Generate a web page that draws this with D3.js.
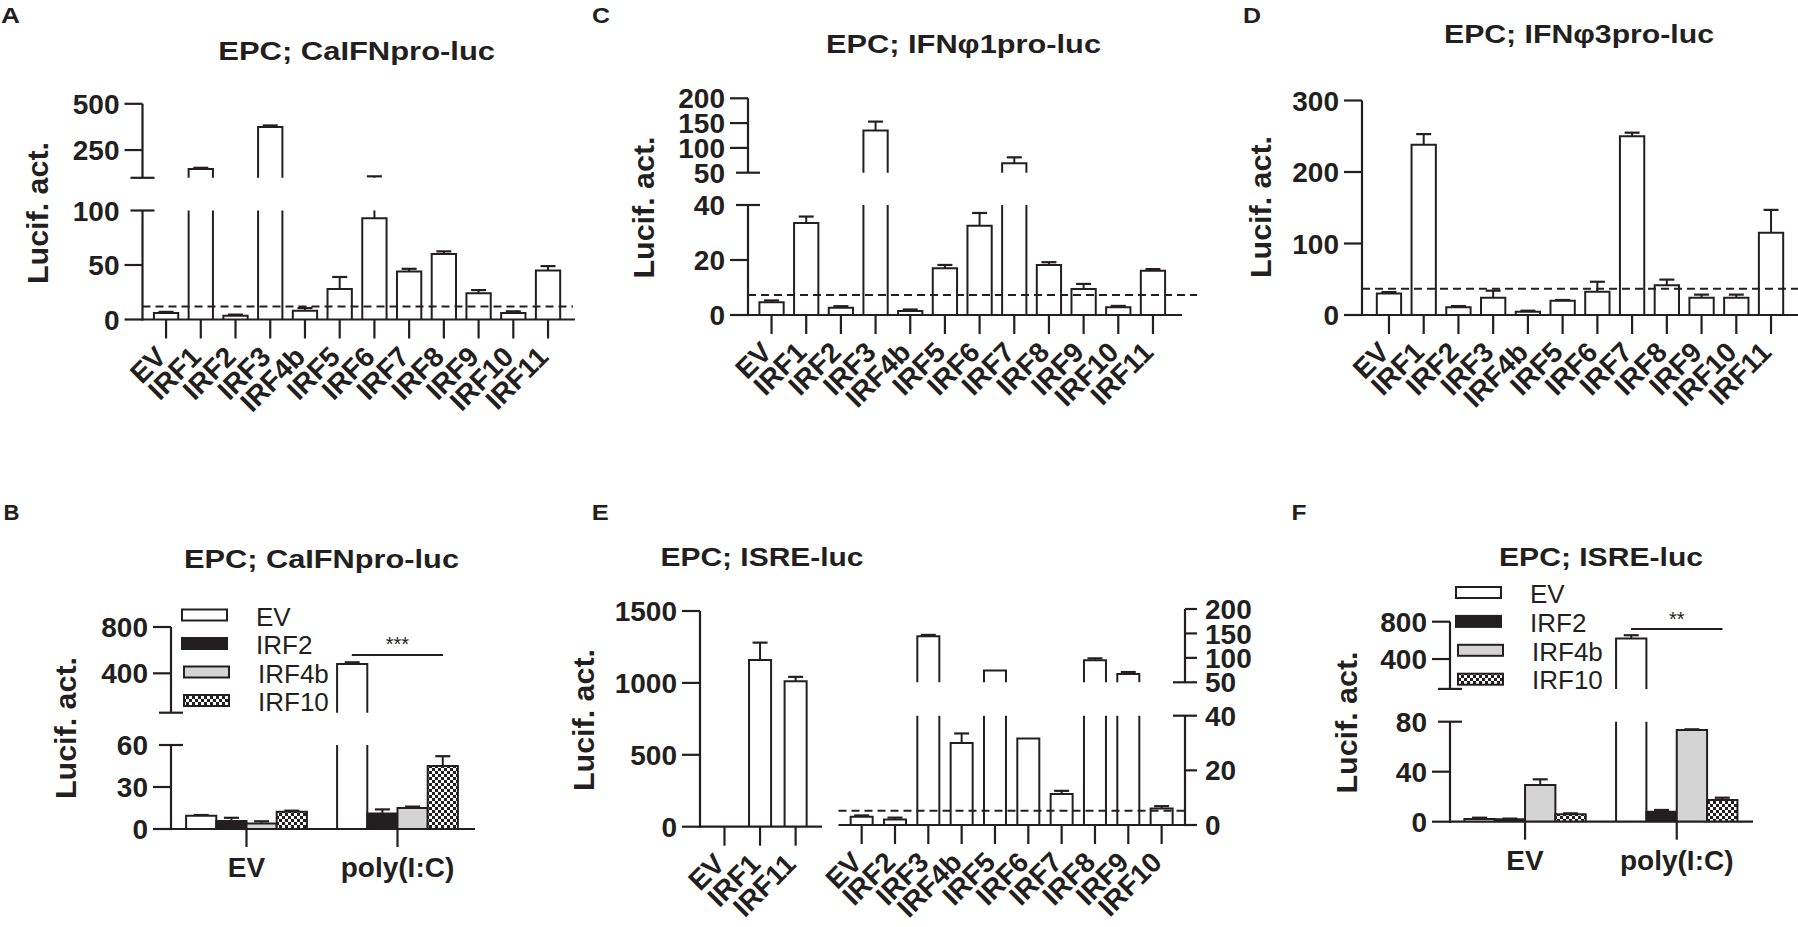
<!DOCTYPE html>
<html><head><meta charset="utf-8">
<script src="https://cdn.jsdelivr.net/npm/d3@7"></script>
<style>
html,body{margin:0;padding:0;background:#fff;}
svg{display:block;}
text{font-family:"Liberation Sans",Arial,Helvetica,sans-serif;fill:#231f20;}
</style></head><body>
<svg id="chart" width="1798" height="927"></svg>
<script>
// ---------------- DATA ----------------
const irfCats = ["EV","IRF1","IRF2","IRF3","IRF4b","IRF5","IRF6","IRF7","IRF8","IRF9","IRF10","IRF11"];

// Panel A: CaIFNpro-luc
const aValues = [6, 148, 3.5, 375, 8, 28, 93, 44, 60, 24, 6, 45];
const aErrors = [1, 6, 1, 8, 2.5, 11, 15, 2.5, 2.5, 3, 1.5, 4];
const aTicksLower = [0, 50, 100];
const aTicksUpper = [250, 500];
const aCutoff = 12;

// Panel C: IFNφ1pro-luc
const cValues = [4.6, 33.5, 2.6, 135, 1.5, 17, 32.5, 69, 18.2, 9.5, 2.8, 16.1];
const cErrors = [0.7, 2.3, 0.6, 18, 0.5, 1.2, 4.6, 12, 1, 1.8, 0.5, 0.6];
const cTicksLower = [0, 20, 40];
const cTicksUpper = [50, 100, 150, 200];
const cCutoff = 7.3;

// Panel D: IFNφ3pro-luc
const dValues = [30, 238, 11, 24, 4.5, 20, 32.5, 250, 41.5, 24, 24, 115];
const dErrors = [2, 15, 1.5, 10, 1.5, 1, 14, 5, 8, 4.5, 4.5, 32];
const dTicks = [0, 100, 200, 300];
const dCutoff = 36.7;

// Panels B and F: grouped
const groupCats = ["EV", "poly(I:C)"];
const seriesNames = ["EV", "IRF2", "IRF4b", "IRF10"];
const bValuesEV = [9.5, 5.7, 4, 12.4];
const bErrorsEV = [0.5, 2.3, 1.5, 0.7];
const bValuesPoly = [480, 11, 15, 45];
const bErrorsPoly = [15, 3, 1, 7];
const bTicksLower = [0, 30, 60];
const bTicksUpper = [400, 800];
const bSignif = "***";

const fValuesEV = [2.2, 1.9, 29.4, 5.9];
const fErrorsEV = [1, 0.6, 4.5, 0.8];
const fValuesPoly = [620, 8, 73.4, 17.4];
const fErrorsPoly = [35, 1.4, 0.5, 1.8];
const fTicksLower = [0, 40, 80];
const fTicksUpper = [400, 800];
const fSignif = "**";

// Panel E: ISRE-luc
const eLeftCats = ["EV", "IRF1", "IRF11"];
const eLeftValues = [0, 1160, 1012];
const eLeftErrors = [0, 120, 30];
const eLeftTicks = [0, 500, 1000, 1500];
const eRightCats = ["EV","IRF2","IRF3","IRF4b","IRF5","IRF6","IRF7","IRF8","IRF9","IRF10"];
const eRightValues = [3, 2, 144, 30, 74, 31.7, 11.3, 95, 67, 6];
const eRightErrors = [0.5, 0.7, 3, 3.5, 0, 0, 1.2, 4, 4, 0.9];
const eRightTicksLower = [0, 20, 40];
const eRightTicksUpper = [50, 100, 150, 200];
const eCutoff = 5.2;

// ---------------- DRAWING ----------------
const INK = "#231f20";
const svg = d3.select("#chart");
const defs = svg.append("defs");
const pat = defs.append("pattern").attr("id","checker").attr("patternUnits","userSpaceOnUse")
  .attr("width",6).attr("height",6);
pat.append("rect").attr("width",6).attr("height",6).attr("fill","#fff");
pat.append("rect").attr("width",3).attr("height",3).attr("fill",INK);
pat.append("rect").attr("x",3).attr("y",3).attr("width",3).attr("height",3).attr("fill",INK);
const seriesFill = {EV:"#ffffff", IRF2:INK, IRF4b:"#d4d4d4", IRF10:"url(#checker)"};

const SW = 2.2;
function line(g, x1, y1, x2, y2, w) {
  return g.append("line").attr("x1",x1).attr("y1",y1).attr("x2",x2).attr("y2",y2)
    .attr("stroke",INK).attr("stroke-width",w||SW);
}

function seg(domain, range, ticks) {
  return {scale: d3.scaleLinear().domain(domain).range(range), ticks: ticks};
}

// side = -1: ticks to the left; +1: ticks to the right
function drawYAxis(g, x, segs, side, opt) {
  opt = opt || {};
  const tl = opt.tickLen || 18, gap = opt.labelGap || 23;
  segs.forEach((s, i) => {
    const [y0, y1] = s.scale.range();
    const [d0, d1] = s.scale.domain();
    line(g, x, y0 + (i === 0 ? SW/2 : 0), x, y1);
    s.ticks.forEach(t => {
      const y = s.scale(t);
      const isBreak = (i < segs.length-1 && t === d1) || (i > 0 && t === d0);
      if (!isBreak) line(g, x, y, x + side*tl, y);
      g.append("text").attr("x", x + side*gap).attr("y", y).attr("dy","0.36em")
        .attr("text-anchor", side < 0 ? "end" : "start")
        .attr("font-size",28).attr("font-weight","bold").text(t);
    });
    if (i < segs.length-1) line(g, x - 12, y1, x + 12, y1);
    if (i > 0) line(g, x - 12, y0, x + 12, y0);
  });
}

function drawBar(g, xl, bw, v, e, segs, fill) {
  const xr = xl + bw, xc = xl + bw/2;
  segs.forEach(s => {
    const [d0, d1] = s.scale.domain();
    if (v > d0) {
      const top = Math.min(v, d1);
      const yb = s.scale(d0), yt = s.scale(top);
      g.append("rect").attr("x",xl).attr("y",yt).attr("width",bw).attr("height",Math.max(0,yb-yt)).attr("fill",fill);
      const p = v <= d1 ? `M${xl},${yb}V${yt}H${xr}V${yb}` : `M${xl},${yb}V${yt}M${xr},${yt}V${yb}`;
      g.append("path").attr("d",p).attr("fill","none").attr("stroke",INK).attr("stroke-width",2);
    }
    if (e > 0) {
      const tp = v + e;
      const lo = Math.max(v, d0), hi = Math.min(tp, d1);
      if (hi > lo) line(g, xc, s.scale(lo), xc, s.scale(hi), 2);
      if (tp >= d0 && tp <= d1) line(g, xc - 7.5, s.scale(tp), xc + 7.5, s.scale(tp), 2.2);
    }
  });
}

function drawCatAxis(g, xs, cats, y, x1, x2) {
  line(g, x1, y, x2, y);
  cats.forEach(c => {
    const xc = xs(c) + xs.bandwidth()/2;
    line(g, xc, y, xc, y + 19);
    g.append("text").attr("transform", `translate(${xc + 2},${y + 39}) rotate(-45)`)
      .attr("text-anchor","end").attr("font-size",28).attr("font-weight","bold").text(c);
  });
}

function dashed(g, x1, x2, y) {
  line(g, x1, y, x2, y, 2).attr("stroke-dasharray","8,5");
}

function title(g, x, y, t, w) {
  g.append("text").attr("x",x).attr("y",y).attr("text-anchor","middle")
    .attr("font-size",26).attr("font-weight","bold")
    .attr("textLength", w).attr("lengthAdjust","spacingAndGlyphs").text(t);
}
function letter(g, x, y, t, w) {
  g.append("text").attr("x",x).attr("y",y).attr("font-size",22).attr("font-weight","bold")
    .attr("textLength", w).attr("lengthAdjust","spacingAndGlyphs").text(t);
}
function ylabel(g, x, y) {
  g.append("text").attr("transform",`translate(${x},${y}) rotate(-90)`).attr("text-anchor","middle")
    .attr("dy","0.36em").attr("font-size",29).attr("font-weight","bold")
    .attr("textLength", 142).attr("lengthAdjust","spacingAndGlyphs").text("Lucif. act.");
}

// ---------- Panel A ----------
{
  const g = svg.append("g");
  letter(g, 1, 23, "A", 19);
  title(g, 356.7, 60, "EPC; CaIFNpro-luc", 276.7);
  ylabel(g, 38, 213);
  const segs = [seg([0,100],[319.5,210.5], aTicksLower), seg([100,500],[177.8,103.8], aTicksUpper)];
  const xs = d3.scaleBand().domain(irfCats).range([148.7,565.4]).paddingInner(0.3).paddingOuter(0.15);
  irfCats.forEach((c,i) => drawBar(g, xs(c), xs.bandwidth(), aValues[i], aErrors[i], segs, "#fff"));
  drawYAxis(g, 142.5, segs, -1);
  drawCatAxis(g, xs, irfCats, 319.5, 142.5, 575);
  dashed(g, 142.5, 573, segs[0].scale(aCutoff));
}

// ---------- Panel C ----------
{
  const g = svg.append("g");
  letter(g, 592, 23, "C", 18);
  title(g, 963.5, 53, "EPC; IFNφ1pro-luc", 275);
  ylabel(g, 643.3, 207.5);
  const segs = [seg([0,40],[315,205], cTicksLower), seg([50,200],[172.7,98.3], cTicksUpper)];
  const xs = d3.scaleBand().domain(irfCats).range([754.2,1170.3]).paddingInner(0.3).paddingOuter(0.15);
  irfCats.forEach((c,i) => drawBar(g, xs(c), xs.bandwidth(), cValues[i], cErrors[i], segs, "#fff"));
  drawYAxis(g, 748, segs, -1);
  drawCatAxis(g, xs, irfCats, 315, 748, 1182);
  dashed(g, 748, 1197, segs[0].scale(cCutoff));
}

// ---------- Panel D ----------
{
  const g = svg.append("g");
  letter(g, 1243, 23, "D", 18);
  title(g, 1579, 43, "EPC; IFNφ3pro-luc", 270);
  ylabel(g, 1261, 207);
  const segs = [seg([0,300],[315,100.5], dTicks)];
  const xs = d3.scaleBand().domain(irfCats).range([1371.6,1788.4]).paddingInner(0.3).paddingOuter(0.15);
  irfCats.forEach((c,i) => drawBar(g, xs(c), xs.bandwidth(), dValues[i], dErrors[i], segs, "#fff"));
  drawYAxis(g, 1362, segs, -1);
  drawCatAxis(g, xs, irfCats, 315, 1362, 1798);
  dashed(g, 1362, 1798, segs[0].scale(dCutoff));
}

// ---------- grouped panels ----------
function groupedPanel(cfg) {
  const g = svg.append("g");
  letter(g, cfg.letterX, 520, cfg.letter, cfg.letterW);
  title(g, cfg.titleX, cfg.titleY, cfg.title, cfg.titleW);
  ylabel(g, cfg.ylabX, cfg.ylabY);
  const segs = cfg.segs;
  const xg = d3.scaleBand().domain(groupCats).range(cfg.xRange).paddingInner(0.2).paddingOuter(0.1);
  const xi = d3.scaleBand().domain(seriesNames).range([0, xg.bandwidth()]);
  const vals = [cfg.valsEV, cfg.valsPoly], errs = [cfg.errsEV, cfg.errsPoly];
  groupCats.forEach((gc, j) => {
    seriesNames.forEach((sn, k) => {
      drawBar(g, xg(gc) + xi(sn), xi.bandwidth(), vals[j][k], errs[j][k], segs, seriesFill[sn]);
    });
  });
  drawYAxis(g, cfg.axisX, segs, -1);
  const base = segs[0].scale(0);
  line(g, cfg.axisX, base, cfg.axisEnd, base);
  groupCats.forEach(gc => {
    const xc = xg(gc) + xg.bandwidth()/2;
    line(g, xc, base, xc, base + 18);
    g.append("text").attr("x", xc).attr("y", cfg.groupLabY).attr("text-anchor","middle")
      .attr("font-size",28).attr("font-weight","bold").text(gc);
  });
  // legend
  seriesNames.forEach((sn, k) => {
    const lx = cfg.legX + (k >= 2 ? 2 : 0);
    g.append("rect").attr("x", lx).attr("y", cfg.legY + k*cfg.legStep).attr("width",45).attr("height",11)
      .attr("fill", seriesFill[sn]).attr("stroke",INK).attr("stroke-width",2);
    g.append("text").attr("x", cfg.legTextX + (k >= 2 ? 2 : 0)).attr("y", cfg.legTextY + k*cfg.legStep)
      .attr("font-size",26).text(sn);
  });
  // significance
  line(g, cfg.sigX1, cfg.sigY, cfg.sigX2, cfg.sigY, 2);
  g.append("text").attr("x", (cfg.sigX1+cfg.sigX2)/2).attr("y", cfg.sigTextY).attr("text-anchor","middle")
    .attr("font-size",20).text(cfg.signif);
}

groupedPanel({
  letter:"B", letterX:3.6, letterW:16, title:"EPC; CaIFNpro-luc", titleX:321.5, titleY:568, titleW:275,
  ylabX:66, ylabY:728,
  segs:[seg([0,60],[829,745], bTicksLower), seg([60,800],[712.7,627], bTicksUpper)],
  xRange:[171,473], axisX:171, axisEnd:475, groupLabY:877,
  valsEV:bValuesEV, errsEV:bErrorsEV, valsPoly:bValuesPoly, errsPoly:bErrorsPoly,
  legX:182, legY:609.5, legStep:28.5, legTextX:256, legTextY:625.5,
  sigX1:351.8, sigX2:443, sigY:655, sigTextY:651, signif:bSignif
});

groupedPanel({
  letter:"F", letterX:1291.5, letterW:15, title:"EPC; ISRE-luc", titleX:1601, titleY:566, titleW:204,
  ylabX:1346.8, ylabY:722.5,
  segs:[seg([0,80],[821.7,721.7], fTicksLower), seg([80,800],[688.9,621.7], fTicksUpper)],
  xRange:[1449.2,1752.6], axisX:1450, axisEnd:1753, groupLabY:870,
  valsEV:fValuesEV, errsEV:fErrorsEV, valsPoly:fValuesPoly, errsPoly:fErrorsPoly,
  legX:1456, legY:587, legStep:28.9, legTextX:1530, legTextY:602.7,
  sigX1:1631, sigX2:1722.5, sigY:629, sigTextY:626, signif:fSignif
});

// ---------- Panel E ----------
{
  const g = svg.append("g");
  letter(g, 591.7, 520, "E", 17);
  title(g, 762, 566, "EPC; ISRE-luc", 203);
  ylabel(g, 584, 720);
  // left part
  const segL = [seg([0,1500],[826.7,611], eLeftTicks)];
  const xl = d3.scaleBand().domain(eLeftCats).range([706.7,813.4]).paddingInner(0.38).paddingOuter(0.19);
  eLeftCats.forEach((c,i) => drawBar(g, xl(c), xl.bandwidth(), eLeftValues[i], eLeftErrors[i], segL, "#fff"));
  drawYAxis(g, 700, segL, -1);
  drawCatAxis(g, xl, eLeftCats, 826.7, 700, 822);
  // right part
  const segR = [seg([0,40],[825,715.7], eRightTicksLower), seg([50,200],[682.3,609], eRightTicksUpper)];
  const xr = d3.scaleBand().domain(eRightCats).range([845,1178.3]).paddingInner(0.34).paddingOuter(0.17);
  eRightCats.forEach((c,i) => drawBar(g, xr(c), xr.bandwidth(), eRightValues[i], eRightErrors[i], segR, "#fff"));
  drawYAxis(g, 1185, segR, 1, {tickLen:12, labelGap:20});
  drawCatAxis(g, xr, eRightCats, 825, 838.5, 1185);
  dashed(g, 838.5, 1185, segR[0].scale(eCutoff));
}
</script>
</body></html>
